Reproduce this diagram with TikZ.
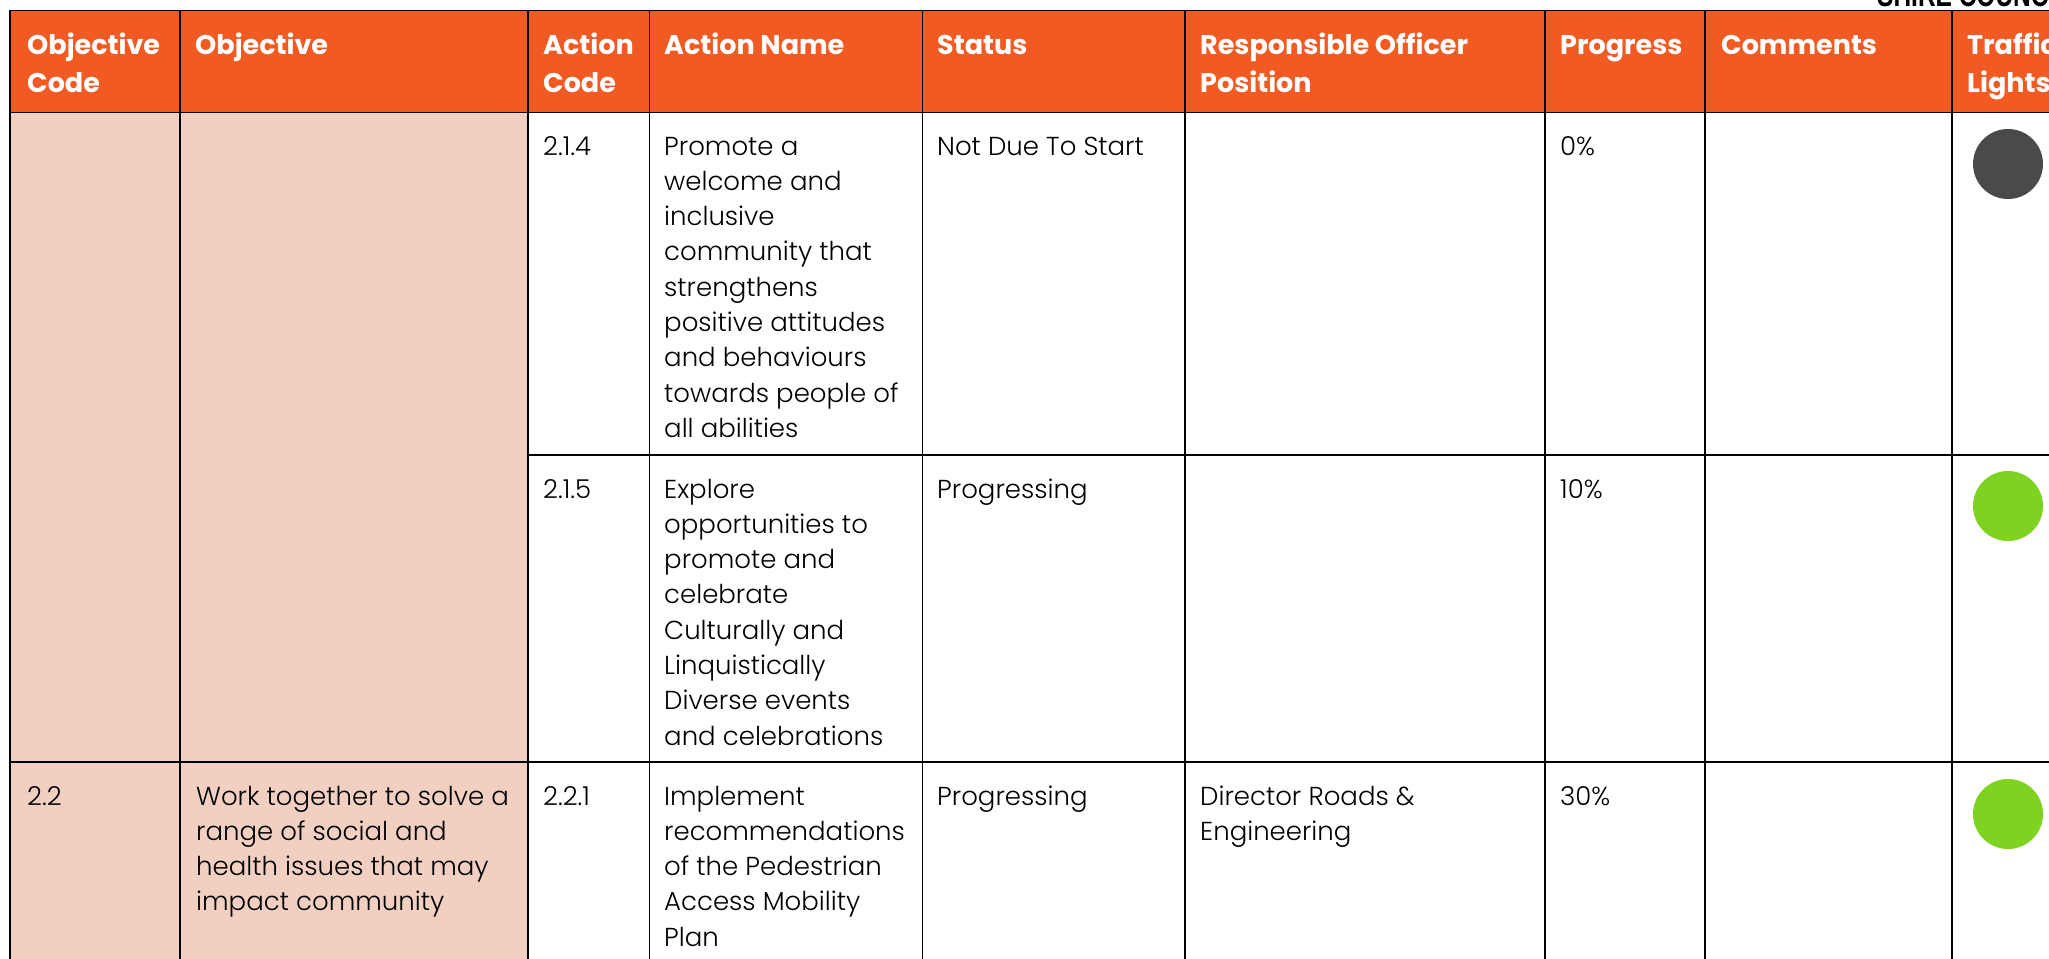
\documentclass[tikz,border=0pt]{standalone}
\usepackage{fontspec}
\setmainfont{Poppins}[UprightFont=* Light, BoldFont=* Bold]
\newfontfamily\shirefont{Liberation Sans}[FakeStretch=0.72]
\definecolor{hdorange}{RGB}{241,90,34}
\definecolor{pinkcell}{RGB}{242,208,193}
\definecolor{lightgreen}{RGB}{126,211,33}
\definecolor{lightgrey}{RGB}{74,74,74}
\newcommand\bdsize{\fontsize{26}{35.3}\selectfont}
\newcommand\hdsize{\fontsize{27}{37.5}\selectfont}
\newcommand\cell[1]{\begin{tabular}[t]{@{}l@{}}#1\end{tabular}}
\begin{document}
\begin{tikzpicture}[x=1pt,y=-1pt,
  hd/.style={anchor=base west, inner sep=0pt, text=white, font=\hdsize\bfseries},
  bd/.style={anchor=base west, inner sep=0pt, font=\bdsize},
  gridline/.style={line width=1.3pt, draw=black},
  lamp/.style={circle, minimum size=70pt, inner sep=0pt}]
\useasboundingbox (0,0) rectangle (2049,958);
% fills
\fill[hdorange] (10,10.5) rectangle (2070,112.5);
\fill[pinkcell] (10,112.5) rectangle (528,980);
% grid
\draw[gridline] (10,10.5) -- (2070,10.5);
\draw[gridline] (10,112.5) -- (2070,112.5);
\draw[gridline] (528,455) -- (2070,455);
\draw[gridline] (10,762) -- (2070,762);
\foreach \x in {10,180,528,649.5,922.5,1185,1545,1705,1952}
  \draw[gridline] (\x,10.5) -- (\x,980);
% title fragment
\node[anchor=base west, inner sep=0pt, font=\fontsize{34}{34}\shirefont\bfseries] (shire) at (1877,7) {SHIRE COUNCIL};
% header
\node[hd] (h1) at (27,55) {\cell{Objective\\Code}};
\node[hd] (h2) at (195,55) {\cell{Objective}};
\node[hd] (h3) at (543,55) {\cell{Action\\Code}};
\node[hd] (h4) at (664,55) {\cell{Action Name}};
\node[hd] (h5) at (937,55) {\cell{Status}};
\node[hd] (h6) at (1200,55) {\cell{Responsible Officer\\Position}};
\node[hd] (h7) at (1560,55) {\cell{Progress}};
\node[hd] (h8) at (1721,55) {\cell{Comments}};
\node[hd] (h9) at (1967,55) {\cell{Traffic\\Lights}};
% row 1
\node[bd] (r1c3) at (543,155) {\cell{2.1.4}};
\node[bd] (r1c4) at (664,155) {\cell{Promote a\\welcome and\\inclusive\\community that\\strengthens\\positive attitudes\\and behaviours\\towards people of\\all abilities}};
\node[bd] (r1c5) at (937,155) {\cell{Not Due To Start}};
\node[bd] (r1c7) at (1560,155) {\cell{0\%}};
\node[lamp, fill=lightgrey] (r1c9) at (2008,164) {};
% row 2
\node[bd] (r2c3) at (543,498) {\cell{2.1.5}};
\node[bd] (r2c4) at (664,498) {\cell{Explore\\opportunities to\\promote and\\celebrate\\Culturally and\\Linquistically\\Diverse events\\and celebrations}};
\node[bd] (r2c5) at (937,498) {\cell{Progressing}};
\node[bd] (r2c7) at (1560,498) {\cell{10\%}};
\node[lamp, fill=lightgreen] (r2c9) at (2008,506) {};
% row 3
\node[bd] (r3c1) at (27,805) {\cell{2.2}};
\node[bd] (r3c2) at (196,805) {\cell{Work together to solve a\\range of social and\\health issues that may\\impact community}};
\node[bd] (r3c3) at (543,805) {\cell{2.2.1}};
\node[bd] (r3c4) at (664,805) {\cell{Implement\\recommendations\\of the Pedestrian\\Access Mobility\\Plan}};
\node[bd] (r3c5) at (937,805) {\cell{Progressing}};
\node[bd] (r3c6) at (1200,805) {\cell{Director Roads \&\\Engineering}};
\node[bd] (r3c7) at (1560,805) {\cell{30\%}};
\node[lamp, fill=lightgreen] (r3c9) at (2008,814) {};
\end{tikzpicture}
\end{document}
